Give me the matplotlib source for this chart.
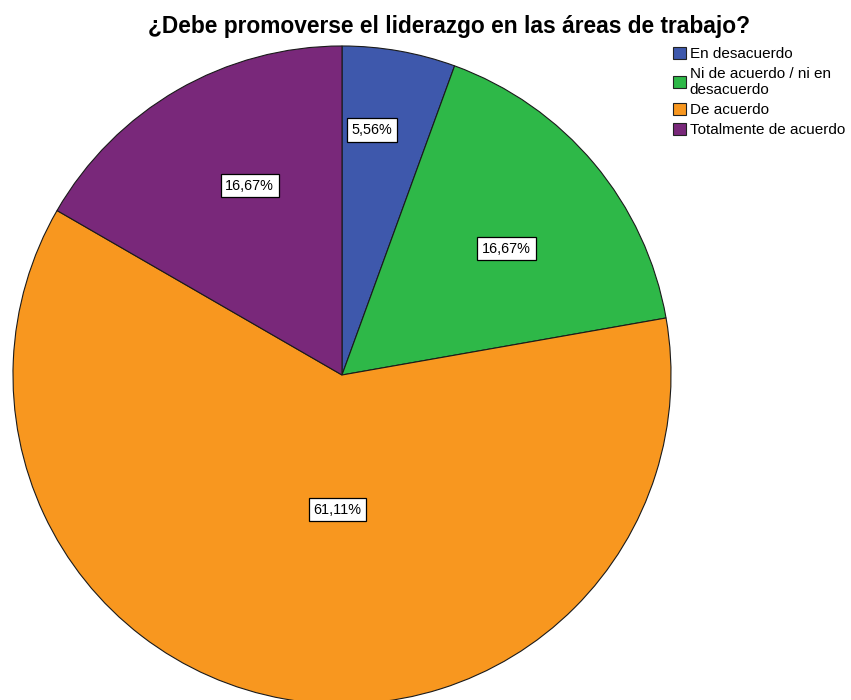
import numpy as np
import matplotlib
matplotlib.use("Agg")
import matplotlib.pyplot as plt
from matplotlib.patches import Patch

plt.rcParams['font.family'] = ['Liberation Sans', 'DejaVu Sans']

title = "¿Debe promoverse el liderazgo en las áreas de trabajo?"
categories = ["En desacuerdo", "Ni de acuerdo / ni en\ndesacuerdo", "De acuerdo", "Totalmente de acuerdo"]
values = [5.56, 16.67, 61.11, 16.67]
labels = ["5,56%", "16,67%", "61,11%", "16,67%"]
colors = ["#3E58AC", "#2EB848", "#F8971F", "#79287A"]

# label placement style (radius fraction, angle offset in degrees)
label_r = [0.75, 0.63, 0.41, 0.64]
label_da = [3, -2.5, 8, -4]

fig = plt.figure(figsize=(8.51, 7.0), dpi=100)
W, H = 851, 700
cx, cy, R = 342, 375, 330
ax = fig.add_axes([(cx - R) / W, (H - cy - R) / H, 2 * R / W, 2 * R / H])
ax.axis('off')

wedges, _ = ax.pie(values, colors=colors, startangle=90, counterclock=False,
                   radius=1.0, center=(0, 0),
                   wedgeprops=dict(edgecolor='#1a1a1a', linewidth=0.8))
ax.set_aspect('auto')
ax.set_xlim(-1.003, 1.003)
ax.set_ylim(-1.003, 1.003)

for w, lab, r, da in zip(wedges, labels, label_r, label_da):
    mid = np.deg2rad((w.theta1 + w.theta2) / 2 + da)
    ax.text(r * np.cos(mid), r * np.sin(mid), lab, ha='center', va='center',
            fontsize=10.4, color='black',
            bbox=dict(boxstyle='square,pad=0.32', facecolor='white',
                      edgecolor='black', linewidth=0.9))

fig.text(449.5 / W, 1 - 27 / H, title, ha='center', va='center',
         fontsize=16.4, fontweight='bold')

handles = [Patch(facecolor=c, edgecolor='#222222', linewidth=0.8) for c in colors]
leg = fig.legend(handles, categories, loc='upper left',
                 bbox_to_anchor=(673 / W, 1 - 47 / H), frameon=False,
                 fontsize=11, handlelength=0.85, handleheight=0.85,
                 handletextpad=0.25, labelspacing=0.38, borderpad=0.0,
                 borderaxespad=0.0)
for t in leg.get_texts():
    t.set_linespacing(1.15)

fig.savefig("out.png", dpi=100)
